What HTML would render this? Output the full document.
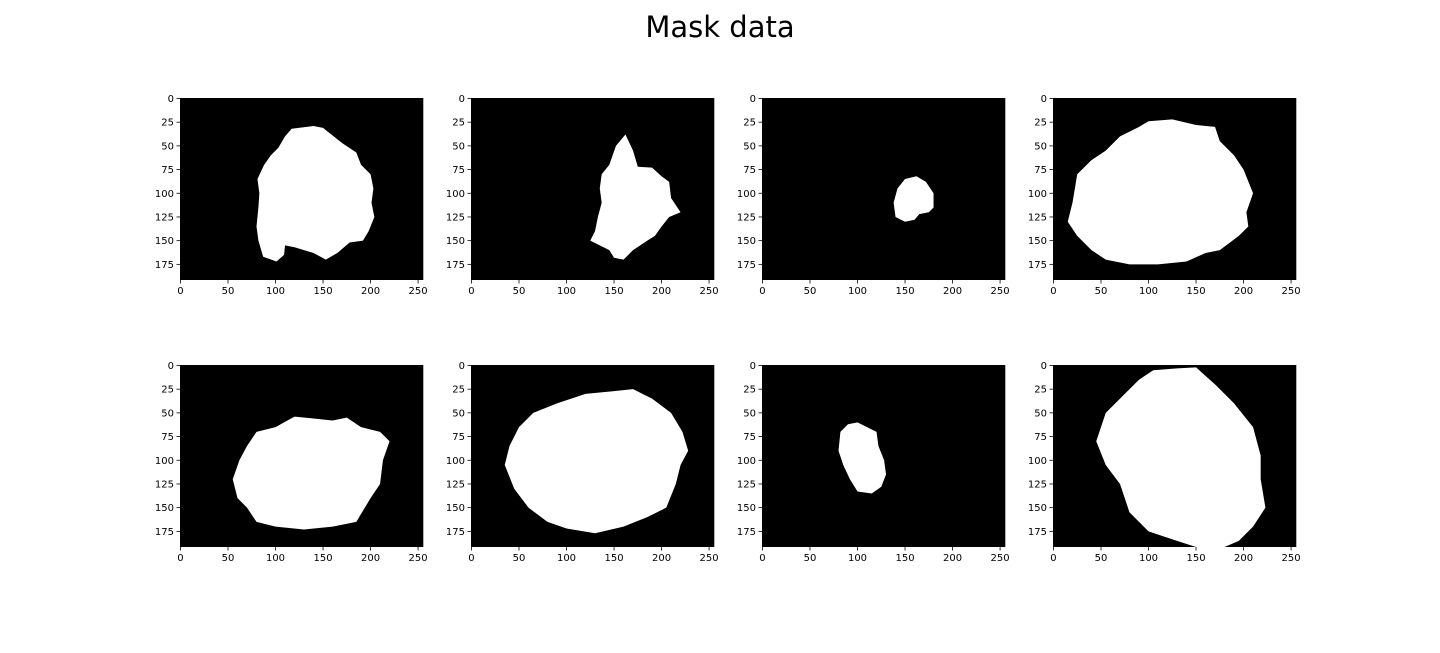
<!DOCTYPE html>
<html><head><meta charset="utf-8">
<style>
body{margin:0;background:#fff;width:1440px;height:648px;overflow:hidden;font-family:"Liberation Sans","DejaVu Sans",sans-serif;}
</style></head>
<body>
<svg id="fig" width="1440" height="648" xmlns="http://www.w3.org/2000/svg">
<text x="720" y="37" text-anchor="middle" font-size="29" font-family="DejaVu Sans, Liberation Sans, sans-serif">Mask data</text>
</svg>
<script>
const xTicks=[0,50,100,150,200,250];
const yTicks=[0,25,50,75,100,125,150,175];
const mask1=[[117,32],[140,29],[150,31],[170,47],[185,57],[190,70],[200,80],[203,95],[201,110],[204,125],[198,140],[192,150],[178,152],[165,163],[153,170],[140,163],[120,157],[110,155],[109,165],[101,172],[87,167],[82,150],[80,135],[82,115],[83,100],[81,85],[88,70],[95,60],[103,52],[110,40]];
const mask2=[[162,38],[170,55],[175,72],[190,73],[200,82],[208,88],[210,105],[220,120],[208,125],[200,135],[193,145],[185,150],[170,160],[160,170],[150,168],[145,160],[135,155],[125,150],[130,140],[133,125],[137,110],[135,95],[137,80],[145,70],[152,50]];
const mask3=[[150,85],[162,82],[172,88],[180,100],[180,115],[175,120],[165,122],[160,128],[150,130],[140,125],[138,110],[142,95]];
const mask4=[[100,24],[125,22],[150,28],[170,30],[175,45],[190,60],[200,75],[210,100],[203,120],[205,135],[195,145],[175,160],[160,163],[140,172],[110,175],[80,175],[55,170],[40,160],[25,145],[15,130],[20,110],[25,80],[40,65],[55,55],[70,40],[90,30]];
const mask5=[[100,65],[120,54],[140,56],[160,58],[175,55],[190,65],[210,70],[220,80],[213,100],[210,125],[200,140],[185,165],[160,170],[130,173],[100,170],[80,165],[70,150],[60,140],[55,120],[62,100],[70,85],[80,70]];
const mask6=[[90,40],[120,30],[150,27],[170,25],[190,35],[210,50],[222,70],[228,90],[220,105],[215,125],[205,150],[185,160],[160,170],[130,177],[100,172],[80,165],[60,150],[45,130],[35,105],[40,85],[50,65],[65,50]];
const mask7=[[90,62],[100,60],[110,65],[120,70],[122,85],[128,100],[130,115],[125,128],[115,135],[100,133],[92,120],[85,105],[80,90],[82,70]];
const mask8=[[105,5],[130,3],[150,2],[170,20],[190,40],[210,65],[218,95],[218,120],[223,150],[210,170],[195,185],[180,191.5],[150,191.5],[130,185],[100,175],[80,155],[70,125],[55,105],[45,80],[55,50],[75,30],[90,15]];
const masks=[mask1,mask2,mask3,mask4,mask5,mask6,mask7,mask8];
const NS="http://www.w3.org/2000/svg";
const svg=document.getElementById('fig');
const colX=[180,471,762,1053], rowY=[98,365], W=243.3, H=182;
function mk(t,a,p){const e=document.createElementNS(NS,t);for(const k in a)e.setAttribute(k,a[k]);p.appendChild(e);return e;}
masks.forEach((m,i)=>{
  const x0=colX[i%4], y0=rowY[Math.floor(i/4)];
  const sx=d=>x0+(d+0.5)/256*W, sy=d=>y0+(d+0.5)/192*H;
  const g=mk('g',{},svg);
  
  
  const bg=mk('rect',{x:x0,y:y0,width:W,height:H,fill:'#000'},g);
  
  
  const poly=mk('polygon',{points:m.map(p=>sx(p[0])+','+sy(p[1])).join(' '),fill:'#fff'},g);
  
  
  xTicks.forEach(t=>{
    const x=sx(t);
    mk('line',{x1:x,x2:x,y1:y0+H,y2:y0+H+3.5,stroke:'#000','stroke-width':0.8},g);
    const tx=mk('text',{x:x,y:y0+H+14,'text-anchor':'middle','font-size':10,'font-family':'DejaVu Sans, sans-serif'},g);
    tx.textContent=t;
    
    
  });
  yTicks.forEach(t=>{
    const y=sy(t);
    mk('line',{x1:x0-3.5,x2:x0,y1:y,y2:y,stroke:'#000','stroke-width':0.8},g);
    const ty=mk('text',{x:x0-6,y:y+3.5,'text-anchor':'end','font-size':10,'font-family':'DejaVu Sans, sans-serif'},g);
    ty.textContent=t;
    
    
  });
});
</script>
</body></html>
